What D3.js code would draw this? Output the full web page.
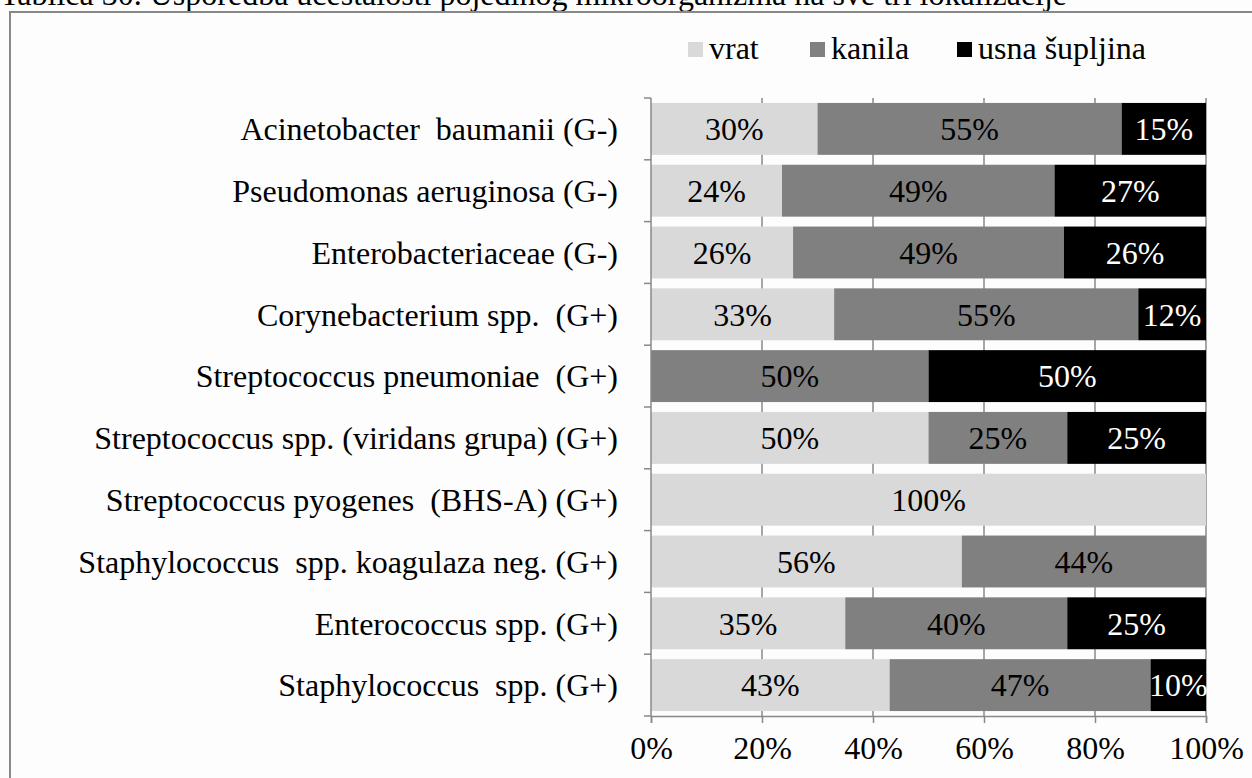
<!DOCTYPE html>
<html>
<head>
<meta charset="utf-8">
<script src="https://cdn.jsdelivr.net/npm/d3@7"></script>
<style>
  body { margin: 0; background: #fff; }
  svg text { font-family: "Liberation Serif", serif; white-space: pre; }
</style>
</head>
<body>
<div id="chart"></div>
<script>
// data (shares in %)
var categories = [
  "Acinetobacter  baumanii (G-)",
  "Pseudomonas aeruginosa (G-)",
  "Enterobacteriaceae (G-)",
  "Corynebacterium spp.  (G+)",
  "Streptococcus pneumoniae  (G+)",
  "Streptococcus spp. (viridans grupa) (G+)",
  "Streptococcus pyogenes  (BHS-A) (G+)",
  "Staphylococcus  spp. koagulaza neg. (G+)",
  "Enterococcus spp. (G+)",
  "Staphylococcus  spp. (G+)"
];
var vrat   = [30.0, 23.6, 25.6, 33.0, 0, 50, 100, 56, 35, 43];
var kanila = [54.8, 49.1, 48.8, 54.8, 50, 25, 0, 44, 40, 47];
var usna   = [15.2, 27.3, 25.6, 12.2, 50, 25, 0, 0, 25, 10];
var seriesNames = ["vrat", "kanila", "usna šupljina"];
var seriesColors = ["#d9d9d9", "#808080", "#000000"];
var xTicks = [0, 20, 40, 60, 80, 100];
var title = "Tablica 30. Usporedba učestalosti pojedinog mikroorganizma na sve tri lokalizacije";

var W = 1252, H = 778, FS = 32, FONT = "Liberation Serif, serif";
var svg = d3.select("#chart").append("svg").attr("width", W).attr("height", H)
  .attr("font-family", FONT);

svg.append("rect").attr("width", W).attr("height", H).attr("fill", "#fdfdfd");

// title, cut at the top of the picture like in the source
svg.append("text").attr("x", 0).attr("y", 5)
  .attr("font-size", FS).attr("fill", "#000").text(title);

// frame
svg.append("rect").attr("x", 10).attr("y", 12).attr("width", W + 20).attr("height", H + 20)
  .attr("fill", "none").attr("stroke", "#888").attr("stroke-width", 2);

var table = categories.map(function(c, i) {
  return { cat: c, vrat: vrat[i], kanila: kanila[i], usna: usna[i] };
});
var keys = ["vrat", "kanila", "usna"];
var stack = d3.stack().keys(keys)(table);

var plotTop = 98, plotBottom = 716;
var x = d3.scaleLinear().domain([0, 100]).range([651, 1206]);
var y = d3.scaleBand().domain(categories).range([plotTop, plotBottom]).paddingInner(0.16).paddingOuter(0.08);

// gridlines
svg.append("g").selectAll("line").data(xTicks.slice(1)).enter().append("line")
  .attr("x1", d => x(d)).attr("x2", d => x(d))
  .attr("y1", plotTop).attr("y2", plotBottom)
  .attr("stroke", "#888").attr("stroke-width", 1.5);

// bars
var groups = svg.append("g").selectAll("g").data(stack).enter().append("g")
  .attr("fill", (d, i) => seriesColors[i]);

groups.selectAll("rect").data(d => d).enter().append("rect")
  .attr("x", d => x(d[0]))
  .attr("y", d => y(d.data.cat))
  .attr("width", d => x(d[1]) - x(d[0]))
  .attr("height", y.bandwidth());

// value labels
stack.forEach(function(layer, li) {
  svg.append("g").selectAll("text").data(layer.filter(d => d[1] - d[0] > 0)).enter().append("text")
    .attr("x", d => (x(d[0]) + x(d[1])) / 2)
    .attr("y", d => y(d.data.cat) + y.bandwidth() / 2)
    .attr("dy", "0.35em")
    .attr("text-anchor", "middle")
    .attr("font-size", FS)
    .attr("fill", li === 2 ? "#fff" : "#000")
    .text(d => Math.round(d[1] - d[0]) + "%");
});

// y axis
var yAxis = svg.append("g").attr("transform", "translate(651,0)");
yAxis.append("line").attr("x1", 0).attr("x2", 0).attr("y1", plotTop).attr("y2", plotBottom)
  .attr("stroke", "#888").attr("stroke-width", 1.5);
var step = (plotBottom - plotTop) / categories.length;
yAxis.selectAll(".tk").data(d3.range(categories.length + 1)).enter().append("line")
  .attr("x1", -7).attr("x2", 0).attr("y1", d => plotTop + d * step).attr("y2", d => plotTop + d * step)
  .attr("stroke", "#888").attr("stroke-width", 1.5);
svg.append("g").selectAll("text").data(categories).enter().append("text")
  .attr("x", 618)
  .attr("y", d => y(d) + y.bandwidth() / 2)
  .attr("dy", "0.35em")
  .attr("text-anchor", "end")
  .attr("font-size", FS)
  .attr("fill", "#000")
  .text(d => d);

// x axis
var xAxis = svg.append("g").attr("transform", "translate(0," + plotBottom + ")")
  .call(d3.axisBottom(x).tickValues(xTicks).tickFormat(d => d + "%").tickSize(7))
  .attr("font-family", FONT);
xAxis.select(".domain").attr("stroke", "#888").attr("stroke-width", 1.5);
xAxis.selectAll(".tick line").attr("stroke", "#888").attr("stroke-width", 1.5);
xAxis.selectAll(".tick text").attr("font-size", FS).attr("fill", "#000")
  .attr("y", 32).attr("dy", "0.35em");

// legend
var legendX = [688, 810, 957];
var lg = svg.append("g").selectAll("g").data(seriesNames).enter().append("g")
  .attr("transform", (d, i) => "translate(" + legendX[i] + ",48)");
lg.append("rect").attr("x", 0).attr("y", -6).attr("width", 15).attr("height", 15)
  .attr("fill", (d, i) => seriesColors[i]);
lg.append("text").attr("x", 21).attr("dy", "0.35em").attr("font-size", FS).attr("fill", "#000")
  .text(d => d);
</script>
</body>
</html>
